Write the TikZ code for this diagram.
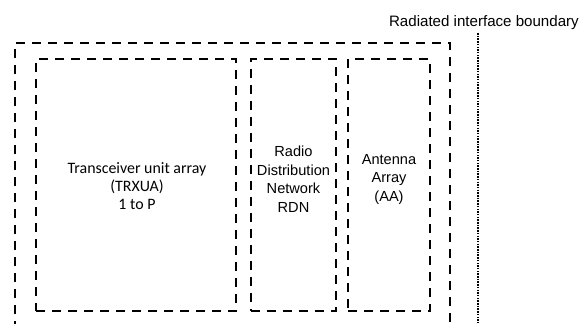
\documentclass[tikz,border=0pt]{standalone}
\usepackage{fontspec}
\setmainfont{Liberation Sans}
\newfontfamily\calibrifont{Carlito}
\begin{document}
\begin{tikzpicture}[x=1pt, y=-1pt]
			\tikzstyle{unitbox}   = [draw=black, line width=1.1pt, dash pattern=on 9pt off 7pt, minimum height=252pt, inner sep=0pt]
			\tikzstyle{blocktext} = [align=center, font=\fontsize{14.6}{18.5}\selectfont]

			\useasboundingbox (0,0) rectangle (582,324);

			% inner blocks
			\foreach \name/\x/\w in {trxua/136/200, rdn/293.5/85, aa/389/82}
				\node[unitbox, minimum width=\w pt] (\name) at (\x, 185) {};

			\node[blocktext, font=\calibrifont\fontsize{15.9}{18}\selectfont] (trxuatext) at (137, 186) {Transceiver unit array\\(TRXUA)\\1 to P};
			\node[blocktext] (rdntext) at (293.5, 179) {Radio\\Distribution\\Network\\RDN};
			\node[blocktext] (aatext) at (389, 179) {Antenna\\Array\\(AA)};

			% outer boundary, open at the bottom
			\coordinate (outerbl) at (15, 330);
			\coordinate (outerbr) at (450, 330);
			\draw[line width=1.1pt, dash pattern=on 9pt off 7pt] (outerbl) |- (450, 43) -- (outerbr);

			% radiated interface boundary
			\node[font=\fontsize{15.1}{18}\selectfont, anchor=east, inner sep=0pt] (rib) at (579, 23) {Radiated interface boundary};
			\coordinate (ribtop) at (478, 33);
			\coordinate (ribbottom) at (478, 330);
			\draw[line width=1.5pt, dash pattern=on 1.5pt off 1.2pt] (ribtop) -- (ribbottom);
		\end{tikzpicture}
\end{document}
